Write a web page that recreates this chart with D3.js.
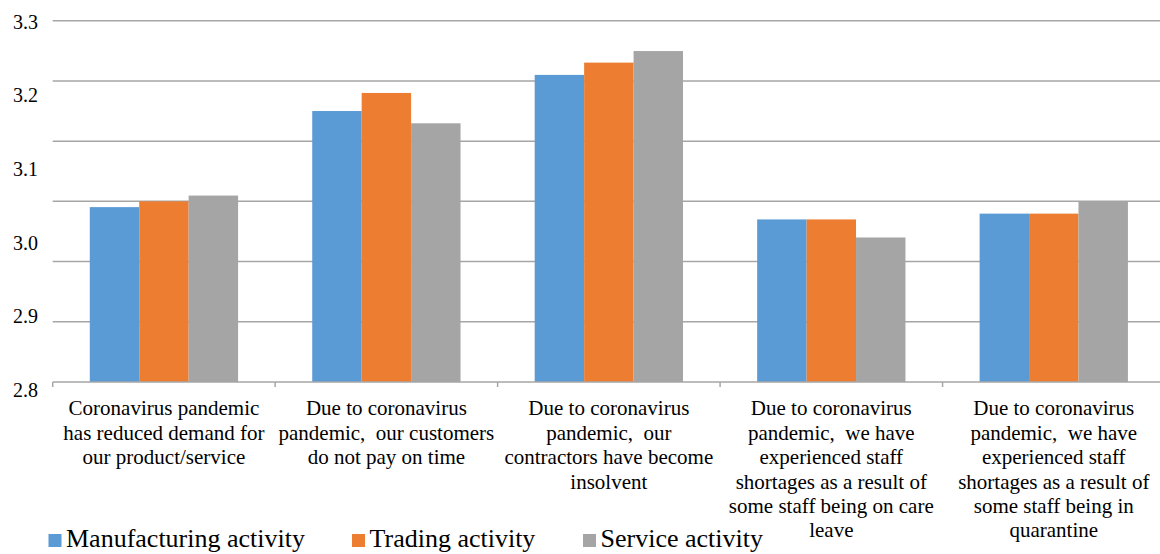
<!DOCTYPE html>
<html>
<head>
<meta charset="utf-8">
<script src="https://cdn.jsdelivr.net/npm/d3@7"></script>
<style>
  html, body { margin: 0; padding: 0; background: #fff; }
  svg { display: block; }
  svg text { font-family: "Liberation Serif", "Times New Roman", "DejaVu Serif", serif; }
</style>
</head>
<body>
<svg id="chart" width="1160" height="554"></svg>
<script>
// categories (one array of lines per category, as wrapped in the picture)
const categories = [
  ["Coronavirus pandemic", "has reduced demand for", "our product/service"],
  ["Due to coronavirus", "pandemic,  our customers", "do not pay on time"],
  ["Due to coronavirus", "pandemic,  our", "contractors have become", "insolvent"],
  ["Due to coronavirus", "pandemic,  we have", "experienced staff", "shortages as a result of", "some staff being on care", "leave"],
  ["Due to coronavirus", "pandemic,  we have", "experienced staff", "shortages as a result of", "some staff being in", "quarantine"]
];
const seriesNames = ["Manufacturing activity", "Trading activity", "Service activity"];
const manufacturing = [3.042, 3.175, 3.225, 3.025, 3.033];
const trading = [3.050, 3.200, 3.242, 3.025, 3.033];
const service = [3.058, 3.158, 3.258, 3.000, 3.050];
const tickLabels = [2.8, 2.9, 3.0, 3.1, 3.2, 3.3];
const colors = ["#5B9BD5", "#ED7D31", "#A5A5A5"];

const svg = d3.select("#chart");
const plotLeft = 52.7, plotRight = 1165, plotTop = 20.7, plotBottom = 382;

let y = d3.scaleLinear().domain([2.8, 3.3]).range([plotBottom, plotTop]);
// Excel draws the labels a touch lower than the lines, keep that look
let yLabel = d3.scaleLinear().domain([2.8, 3.3]).range([390, 21.7]);
let x0 = d3.scaleBand().domain(d3.range(categories.length)).range([plotLeft, plotRight]);
// gap width 150% -> outer padding 0.75 bar each side
let x1 = d3.scaleBand().domain(d3.range(seriesNames.length))
  .range([0, x0.bandwidth()]).paddingInner(0).paddingOuter(0.75);

// gridlines (Excel put 6 even steps between 2.8 and 3.3)
let gridVals = d3.range(1, 7).map(i => 2.8 + i * 0.5 / 6);
svg.append("g").selectAll("line")
  .data(gridVals)
  .enter().append("line")
  .attr("x1", plotLeft).attr("x2", plotRight)
  .attr("y1", d => y(d)).attr("y2", d => y(d))
  .attr("stroke", "#A6A6A6").attr("stroke-width", 1.5);

// y labels
svg.append("g").selectAll("text")
  .data(tickLabels)
  .enter().append("text")
  .attr("x", 38)
  .attr("y", d => yLabel(d))
  .attr("dy", "0.35em")
  .attr("text-anchor", "end")
  .style("font-size", "20px")
  .attr("fill", "#000")
  .text(d => d.toFixed(1));

// bars
const seriesData = [manufacturing, trading, service];
let groups = svg.append("g").selectAll("g")
  .data(categories.map((c, i) => i))
  .enter().append("g")
  .attr("transform", i => "translate(" + x0(i) + ",0)");

groups.selectAll("rect")
  .data(i => seriesData.map((s, j) => ({ s: j, v: s[i] })))
  .enter().append("rect")
  .attr("x", d => x1(d.s))
  .attr("width", x1.bandwidth())
  .attr("y", d => y(d.v))
  .attr("height", d => plotBottom - y(d.v))
  .attr("fill", d => colors[d.s]);

// category axis
let xa = svg.append("g");
xa.append("line")
  .attr("x1", plotLeft).attr("x2", plotRight)
  .attr("y1", plotBottom).attr("y2", plotBottom)
  .attr("stroke", "#A6A6A6").attr("stroke-width", 1.5);
xa.selectAll(".tick")
  .data(d3.range(categories.length + 1))
  .enter().append("line")
  .attr("class", "tick")
  .attr("x1", i => i < categories.length ? x0(i) : plotRight)
  .attr("x2", i => i < categories.length ? x0(i) : plotRight)
  .attr("y1", plotBottom).attr("y2", plotBottom + 5)
  .attr("stroke", "#A6A6A6").attr("stroke-width", 1.5);

let catText = xa.selectAll(".cat")
  .data(categories)
  .enter().append("text")
  .attr("class", "cat")
  .attr("text-anchor", "middle")
  .style("font-size", "21px")
  .attr("fill", "#000");
catText.selectAll("tspan")
  .data((d, i) => d.map(line => ({ line: line, i: i })))
  .enter().append("tspan")
  .attr("x", d => x0(d.i) + x0.bandwidth() / 2)
  .attr("y", (d, k) => 408 + k * 24.4)
  .attr("dy", "0.35em")
  .style("white-space", "pre")
  .text(d => d.line);

// legend
const legendX = [48.5, 352, 583];
let legend = svg.append("g").selectAll("g")
  .data(seriesNames)
  .enter().append("g")
  .attr("transform", (d, i) => "translate(" + legendX[i] + ",534)");
legend.append("rect")
  .attr("width", 13).attr("height", 13)
  .attr("fill", (d, i) => colors[i]);
legend.append("text")
  .attr("x", 17.5)
  .attr("y", 13)
  .style("font-size", "26px")
  .attr("fill", "#000")
  .text(d => d);
</script>
</body>
</html>
